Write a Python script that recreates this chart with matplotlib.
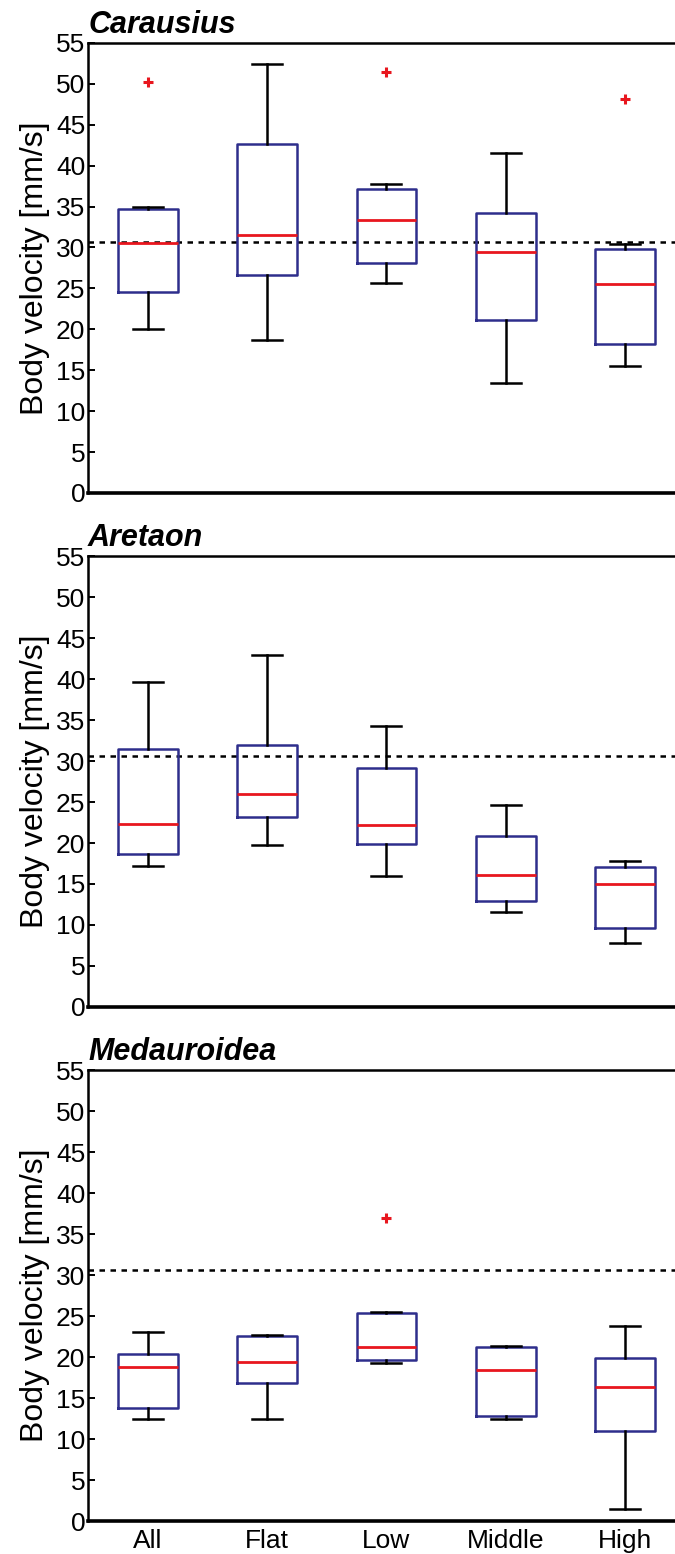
import numpy as np
import matplotlib.pyplot as plt

plt.rcParams['font.family'] = ['Liberation Sans', 'DejaVu Sans']

conditions = ['All', 'Flat', 'Low', 'Middle', 'High']
species = ['Carausius', 'Aretaon', 'Medauroidea']
reference_speed = 30.65

# per condition: lower whisker, Q1, median, Q3, upper whisker
carausius_stats = [
    [20.0, 24.6, 30.6, 34.7, 35.0],
    [18.7, 26.6, 31.5, 42.7, 52.4],
    [25.6, 28.1, 33.3, 37.1, 37.7],
    [13.4, 21.1, 29.4, 34.2, 41.6],
    [15.5, 18.2, 25.5, 29.8, 30.4],
]
carausius_outliers = [[50.2], [], [51.5], [], [48.1]]

aretaon_stats = [
    [17.2, 18.6, 22.3, 31.5, 39.6],
    [19.7, 23.2, 26.0, 32.0, 42.9],
    [16.0, 19.9, 22.2, 29.2, 34.3],
    [11.6, 12.9, 16.1, 20.8, 24.6],
    [7.8, 9.6, 15.0, 17.1, 17.8],
]
aretaon_outliers = [[], [], [], [], []]

medauroidea_stats = [
    [12.4, 13.8, 18.8, 20.4, 23.0],
    [12.5, 16.8, 19.4, 22.6, 22.7],
    [19.3, 19.6, 21.2, 25.4, 25.5],
    [12.4, 12.8, 18.4, 21.2, 21.4],
    [1.5, 11.0, 16.4, 19.9, 23.8],
]
medauroidea_outliers = [[], [], [36.9], [], []]

all_stats = [carausius_stats, aretaon_stats, medauroidea_stats]
all_outliers = [carausius_outliers, aretaon_outliers, medauroidea_outliers]

box_color = '#2e2e8c'
median_color = '#e8161e'

fig = plt.figure(figsize=(6.75, 15.54), dpi=100)
# axes positions [left, bottom, width, height] in figure fractions
positions = [
    [0.1304, 0.6828, 0.884, 0.2896],
    [0.1304, 0.3520, 0.884, 0.2902],
    [0.1304, 0.0212, 0.884, 0.2902],
]

for i, name in enumerate(species):
    ax = fig.add_axes(positions[i])
    bstats = []
    for (lo, q1, med, q3, hi), fl, lab in zip(all_stats[i], all_outliers[i], conditions):
        bstats.append({'whislo': lo, 'q1': q1, 'med': med, 'q3': q3,
                       'whishi': hi, 'fliers': fl, 'label': lab})
    ax.axhline(reference_speed, color='black', lw=1.8,
               linestyle=(0, (2.2, 2.2)), zorder=1)
    ax.bxp(bstats, positions=np.arange(1, 6), widths=0.5, showfliers=True,
           boxprops=dict(color=box_color, lw=1.8),
           medianprops=dict(color=median_color, lw=2.0),
           whiskerprops=dict(color='black', lw=1.8),
           capprops=dict(color='black', lw=1.8),
           flierprops=dict(marker='+', markeredgecolor=median_color,
                           markersize=7, markeredgewidth=2.2),
           capwidths=0.25)
    ax.set_xlim(0.5, 5.5)
    ax.set_ylim(0, 55)
    ax.set_yticks(np.arange(0, 56, 5))
    ax.tick_params(axis='y', direction='in', length=5, width=1.4,
                   labelsize=19, pad=2)
    ax.tick_params(axis='x', length=0, labelsize=19, pad=6)
    if i < 2:
        ax.set_xticklabels([])
    ax.set_ylabel('Body velocity [mm/s]', fontsize=23, labelpad=4)
    for side in ['left', 'top', 'right']:
        ax.spines[side].set_linewidth(1.8)
    ax.spines['bottom'].set_linewidth(2.6)
    ax.set_title(name, loc='left', fontsize=22, fontweight='bold',
                 fontstyle='italic', pad=7)

plt.savefig('out.png', dpi=100)
